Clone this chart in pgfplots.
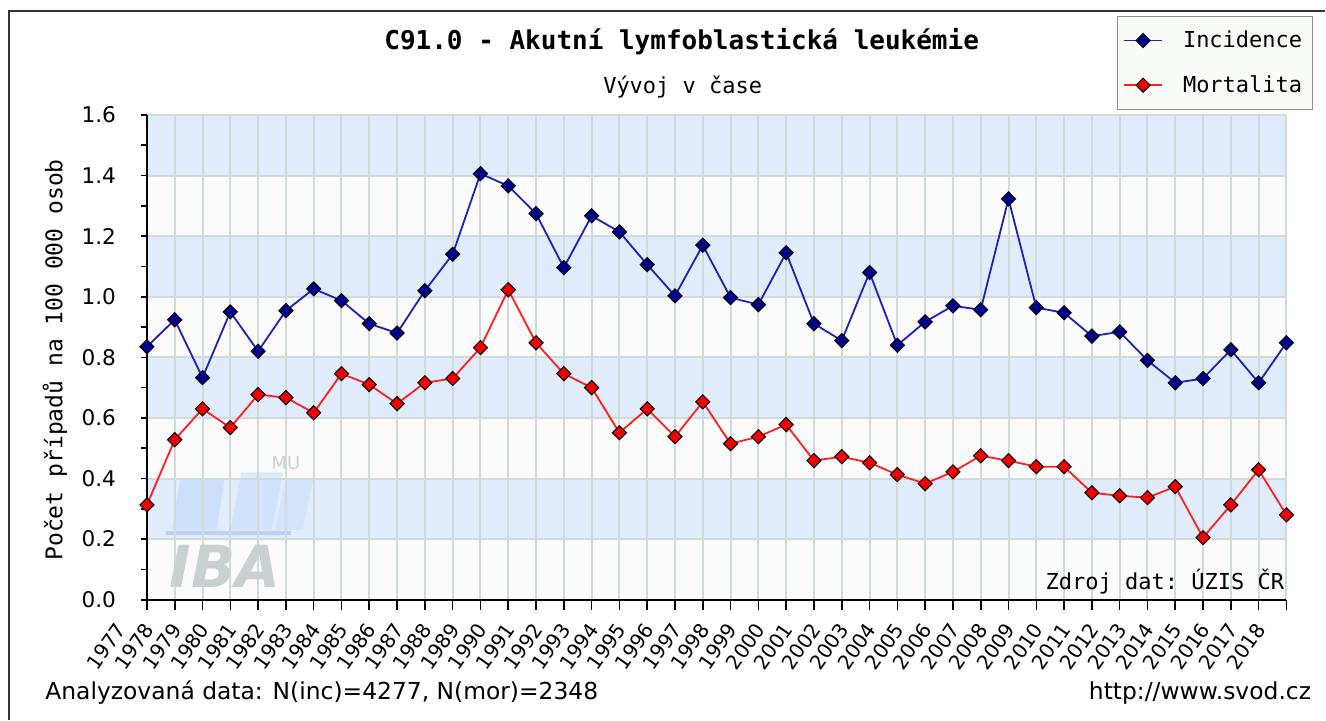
\documentclass[border=0pt]{standalone}
\usepackage{pgfplots}
\pgfplotsset{compat=1.18}
\usepackage{pgfplotstable}
\usepackage{fontspec}
\setmainfont{DejaVu Sans}
\setmonofont{DejaVu Sans Mono}
\definecolor{bandblue}{RGB}{224,236,252}
\definecolor{bandwhite}{RGB}{250,251,250}
\definecolor{gridc}{RGB}{208,218,218}
\definecolor{incline}{RGB}{32,32,180}
\definecolor{incfill}{RGB}{0,0,140}
\definecolor{morline}{RGB}{255,30,30}
\definecolor{morfill}{RGB}{240,0,0}
\definecolor{wmgray}{RGB}{200,208,208}
\definecolor{wmblue}{RGB}{200,222,250}
\definecolor{wmbar}{RGB}{180,202,242}
\definecolor{legdraw}{RGB}{140,140,140}
\definecolor{legfill}{RGB}{248,250,248}

\pgfplotstableread{
year inc mor
1977 0.835 0.313
1978 0.924 0.528
1979 0.733 0.630
1980 0.950 0.568
1981 0.820 0.677
1982 0.954 0.667
1983 1.026 0.617
1984 0.987 0.746
1985 0.911 0.710
1986 0.880 0.647
1987 1.020 0.716
1988 1.140 0.730
1989 1.406 0.832
1990 1.366 1.023
1991 1.274 0.848
1992 1.096 0.746
1993 1.267 0.700
1994 1.214 0.551
1995 1.106 0.630
1996 1.003 0.538
1997 1.170 0.653
1998 0.997 0.515
1999 0.974 0.538
2000 1.145 0.578
2001 0.911 0.459
2002 0.855 0.472
2003 1.080 0.452
2004 0.840 0.413
2005 0.917 0.383
2006 0.970 0.422
2007 0.957 0.475
2008 1.323 0.459
2009 0.964 0.439
2010 0.947 0.439
2011 0.870 0.353
2012 0.884 0.343
2013 0.790 0.337
2014 0.716 0.373
2015 0.730 0.205
2016 0.825 0.313
2017 0.716 0.429
2018 0.848 0.280
}\datatable

\begin{document}
\begin{tikzpicture}
\path (0,0) rectangle (663pt,360pt);
% outer frame (top and left)
\draw[line width=0.6pt, black!80] (4.5pt,0pt) -- (4.5pt,354.5pt) -- (663pt,354.5pt);
\begin{axis}[
  set layers,
  at={(73.5pt,60pt)}, anchor=south west,
  scale only axis, width=570pt, height=242.5pt,
  xmin=1977, xmax=2018, ymin=0, ymax=1.6,
  clip=false,
  axis lines=left,
  axis line style={-, line width=1pt, black},
  tick align=outside,
  major tick length=3pt, minor tick length=3pt,
  x tick style={/pgfplots/major tick length=5pt},
  tick style={black, line width=0.8pt},
  xtick={1977,1978,...,2018},
  ytick={0,0.2,...,1.6},
  minor ytick={0.1,0.3,...,1.5},
  grid=major,
  major grid style={gridc, line width=1pt},
  /pgf/number format/assume math mode=true,
  xticklabel style={font=\fontsize{10}{12}\selectfont, xshift=-11pt, yshift=-7pt, rotate=55, anchor=east, /pgf/number format/1000 sep={}},
  yticklabel style={font=\fontsize{10.8}{12}\selectfont, xshift=-9pt, /pgf/number format/.cd, fixed, fixed zerofill, precision=1},
  legend style={at={(axis description cs:0.851,1.204)}, anchor=north west,
    draw=legdraw, fill=legfill, line width=0.6pt,
    font=\ttfamily\fontsize{11}{13}\selectfont,
    inner xsep=3pt, inner ysep=5pt, row sep=8.5pt,
    /tikz/every odd column/.append style={column sep=8pt}},
  legend cell align=left,
  legend image code/.code={\draw[mark repeat=2,mark phase=2] plot coordinates {(0pt,0pt)(9.5pt,0pt)(19pt,0pt)};},
]
\addplot[draw=none, fill=bandwhite, on layer=axis background, forget plot] coordinates {(1977,0) (2018,0) (2018,1.6) (1977,1.6)} -- cycle;
\addplot[draw=none, fill=bandblue, on layer=axis background, forget plot] coordinates {(1977,0.2) (2018,0.2) (2018,0.4) (1977,0.4)} -- cycle;
\addplot[draw=none, fill=bandblue, on layer=axis background, forget plot] coordinates {(1977,0.6) (2018,0.6) (2018,0.8) (1977,0.8)} -- cycle;
\addplot[draw=none, fill=bandblue, on layer=axis background, forget plot] coordinates {(1977,1.0) (2018,1.0) (2018,1.2) (1977,1.2)} -- cycle;
\addplot[draw=none, fill=bandblue, on layer=axis background, forget plot] coordinates {(1977,1.4) (2018,1.4) (2018,1.6) (1977,1.6)} -- cycle;
% watermark
\addplot[draw=none, fill=wmblue, fill opacity=0.8, on layer=axis background, forget plot] coordinates {(1977.9,0.23) (1979.5,0.23) (1979.8,0.40) (1978.2,0.40)} -- cycle;
\addplot[draw=none, fill=wmblue, fill opacity=0.6, on layer=axis background, forget plot] coordinates {(1980.0,0.23) (1981.5,0.23) (1981.9,0.42) (1980.4,0.42)} -- cycle;
\addplot[draw=none, fill=wmblue, fill opacity=0.5, on layer=axis background, forget plot] coordinates {(1981.6,0.23) (1982.6,0.23) (1983.0,0.40) (1982.0,0.40)} -- cycle;
\addplot[draw=none, fill=wmbar, fill opacity=0.8, on layer=axis background, forget plot] coordinates {(1977.7,0.215) (1982.2,0.215) (1982.2,0.228) (1977.7,0.228)} -- cycle;
\node[font=\bfseries\itshape\fontsize{29}{29}\selectfont, text=wmgray] at (axis cs:1979.8,0.11) {IBA};
\node[font=\fontsize{9}{9}\selectfont, text=wmgray] at (axis cs:1982.0,0.45) {MU};
\addplot[incline, line width=0.9pt, mark=square*, mark size=2.5pt,
  mark options={rotate=45, draw=black, fill=incfill, line width=0.5pt, solid}]
  table[x=year, y=inc] {\datatable};
\addlegendentry{Incidence}
\addplot[morline, line width=0.9pt, mark=square*, mark size=2.5pt,
  mark options={rotate=45, draw=black, fill=morfill, line width=0.5pt, solid}]
  table[x=year, y=mor] {\datatable};
\addlegendentry{Mortalita\hspace{11.5pt}}
\end{axis}
\node[font=\ttfamily\bfseries\fontsize{13}{15}\selectfont] at (341pt,339pt) {C91.0 - Akutní lymfoblastická leukémie};
\node[font=\ttfamily\fontsize{11}{13}\selectfont] at (341.5pt,316.5pt) {Vývoj v čase};
\node[font=\ttfamily\fontsize{11.5}{13}\selectfont, rotate=90] at (27.5pt,180pt) {Počet případů na 100 000 osob};
\node[font=\ttfamily\fontsize{11}{13}\selectfont, anchor=east, inner sep=0pt] at (642.5pt,69pt) {Zdroj dat: ÚZIS ČR};
\node[font=\fontsize{11.7}{13}\selectfont, anchor=west, inner sep=0pt] at (22.5pt,13.5pt) {Analyzovaná data: N(inc)=4277, N(mor)=2348};
\node[font=\fontsize{11.7}{13}\selectfont, anchor=east, inner sep=0pt] at (656pt,13.5pt) {http://www.svod.cz};
\end{tikzpicture}
\end{document}
